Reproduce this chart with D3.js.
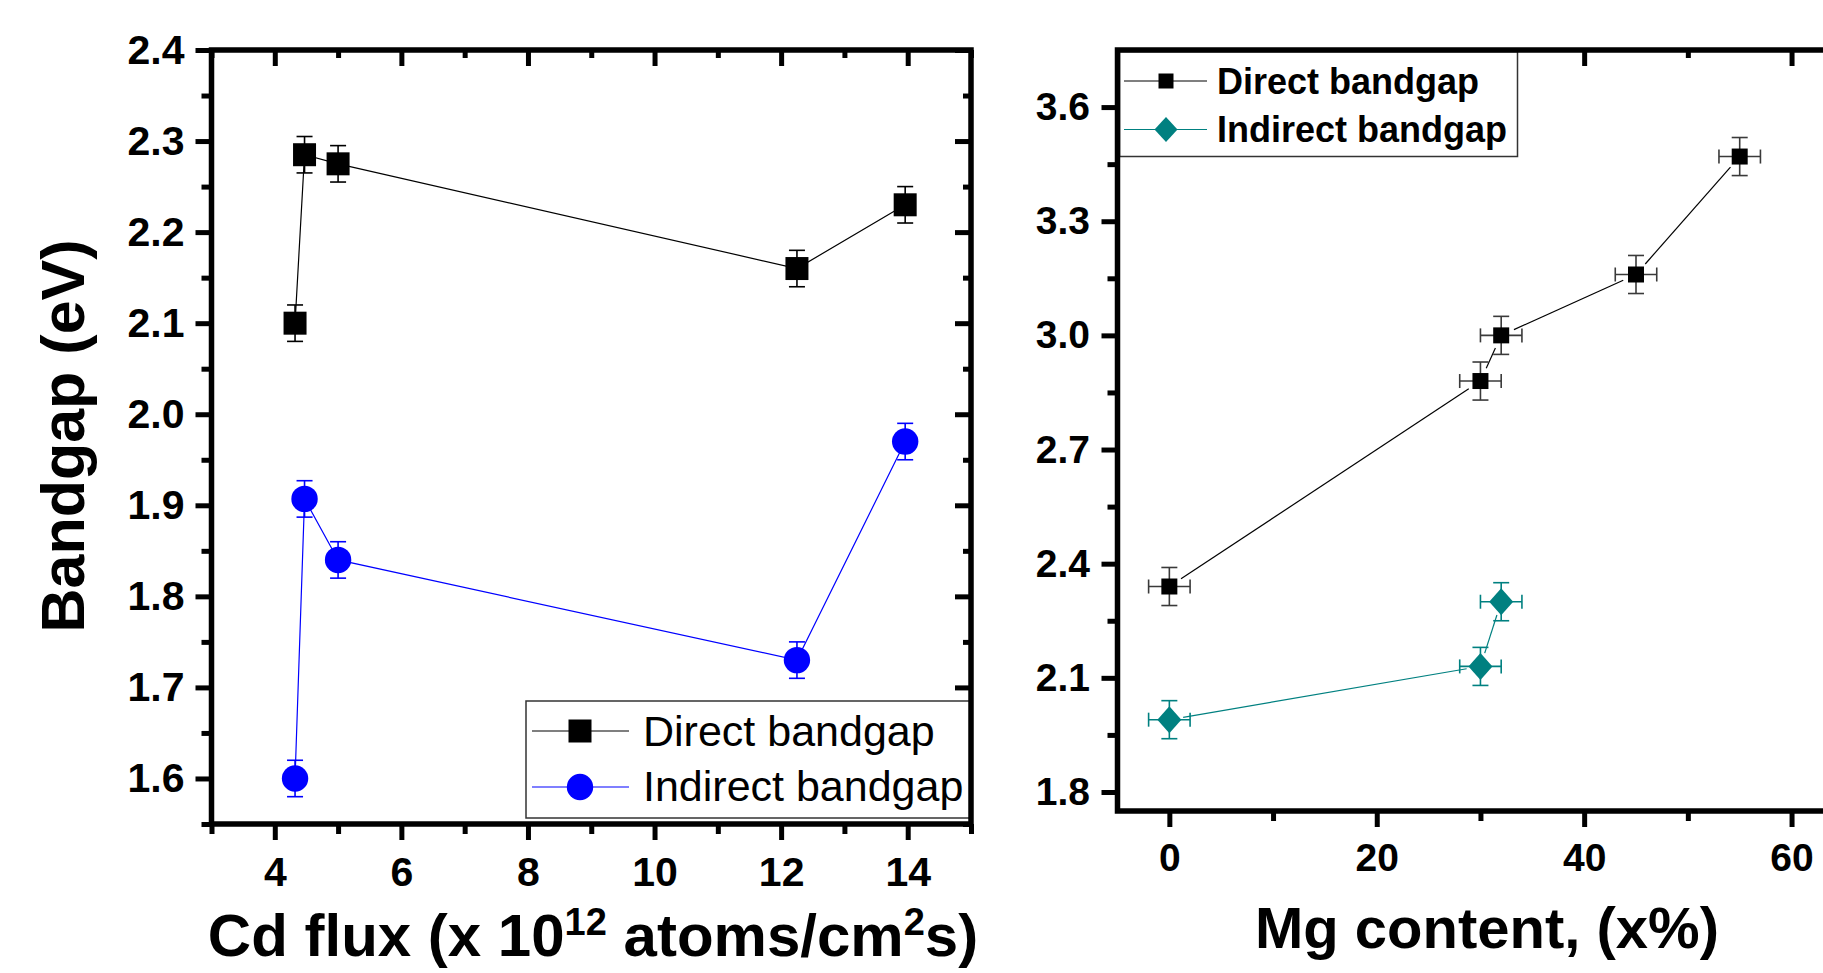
<!DOCTYPE html>
<html><head><meta charset="utf-8">
<script src="https://cdn.jsdelivr.net/npm/d3@7"></script>
<style>html,body{margin:0;padding:0;background:#fff;overflow:hidden}</style>
</head><body>
<svg id="chart" width="1823" height="973"></svg>
<script>
const FONT = "'Liberation Sans', Arial, Helvetica, sans-serif";

// ---- Left panel data: bandgap vs Cd flux ----
const cdFlux = [4.32, 4.47, 5.0, 12.25, 13.96];
const directCd = [2.10, 2.285, 2.275, 2.16, 2.23];
const directCdErr = [0.02, 0.02, 0.02, 0.02, 0.02];
const indirectCd = [1.60, 1.907, 1.84, 1.73, 1.97];
const indirectCdErr = [0.02, 0.02, 0.02, 0.02, 0.02];
const cdXTicks = [4, 6, 8, 10, 12, 14];
const cdXMinor = [3, 5, 7, 9, 11, 13, 15];
const cdYTicks = [1.6, 1.7, 1.8, 1.9, 2.0, 2.1, 2.2, 2.3, 2.4];
const cdYMinor = [1.55, 1.65, 1.75, 1.85, 1.95, 2.05, 2.15, 2.25, 2.35];

// ---- Right panel data: bandgap vs Mg content ----
const mgDirectX = [0, 30, 32, 45, 55];
const mgDirectY = [2.34, 2.88, 3.00, 3.16, 3.47];
const mgDirectXErr = [2, 2, 2, 2, 2];
const mgDirectYErr = [0.05, 0.05, 0.05, 0.05, 0.05];
const mgIndirectX = [0, 30, 32];
const mgIndirectY = [1.99, 2.13, 2.30];
const mgIndirectXErr = [2, 2, 2];
const mgIndirectYErr = [0.05, 0.05, 0.05];
const mgXTicks = [0, 20, 40, 60];
const mgXMinor = [10, 30, 50];
const mgYTicks = [1.8, 2.1, 2.4, 2.7, 3.0, 3.3, 3.6];
const mgYMinor = [1.95, 2.25, 2.55, 2.85, 3.15, 3.45];

const legendLabels = ["Direct bandgap", "Indirect bandgap"];

const svg = d3.select("#chart");

// scales
const xL = d3.scaleLinear().domain([3, 15]).range([211.5, 971]);
const yL = d3.scaleLinear().domain([1.55, 2.4]).range([824, 50]);
const xR = d3.scaleLinear().domain([-5, 65]).range([1117.5, 1843.4]);
const yR = d3.scaleLinear().domain([1.75, 3.75]).range([811, 50]);

const TICKW = 5;

function styleAxis(g, fs) {
  g.select(".domain").remove();
  g.selectAll(".tick line").attr("stroke", "#000").attr("stroke-width", TICKW);
  g.attr("font-family", FONT).attr("font-size", fs).attr("font-weight", "bold");
  g.selectAll(".tick text").attr("fill", "#000");
}

function drawAxes(xs, ys, xT, xM, yT, yM, fmtY, fs, xPad, yPad) {
  const [x0, x1] = xs.range();
  const [yb, yt] = ys.range();
  // bottom major
  svg.append("g").attr("transform", `translate(0,${yb})`)
    .call(d3.axisBottom(xs).tickValues(xT).tickSize(16).tickPadding(xPad).tickFormat(d3.format("d")))
    .call(g => styleAxis(g, fs));
  // bottom minor
  svg.append("g").attr("transform", `translate(0,${yb})`)
    .call(d3.axisBottom(xs).tickValues(xM).tickSize(10).tickFormat(""))
    .call(g => styleAxis(g, fs));
  // left major
  svg.append("g").attr("transform", `translate(${x0},0)`)
    .call(d3.axisLeft(ys).tickValues(yT).tickSize(16).tickPadding(yPad).tickFormat(fmtY))
    .call(g => styleAxis(g, fs));
  svg.append("g").attr("transform", `translate(${x0},0)`)
    .call(d3.axisLeft(ys).tickValues(yM).tickSize(10).tickFormat(""))
    .call(g => styleAxis(g, fs));
  // top (inward)
  svg.append("g").attr("transform", `translate(0,${yt})`)
    .call(d3.axisBottom(xs).tickValues(xT).tickSize(16).tickFormat(""))
    .call(g => styleAxis(g, fs));
  svg.append("g").attr("transform", `translate(0,${yt})`)
    .call(d3.axisBottom(xs).tickValues(xM).tickSize(8).tickFormat(""))
    .call(g => styleAxis(g, fs));
  // right (inward)
  svg.append("g").attr("transform", `translate(${x1},0)`)
    .call(d3.axisLeft(ys).tickValues(yT).tickSize(16).tickFormat(""))
    .call(g => styleAxis(g, fs));
  svg.append("g").attr("transform", `translate(${x1},0)`)
    .call(d3.axisLeft(ys).tickValues(yM).tickSize(8).tickFormat(""))
    .call(g => styleAxis(g, fs));
}

function drawFrame(xs, ys) {
  const [x0, x1] = xs.range();
  const [yb, yt] = ys.range();
  svg.append("rect").attr("x", x0).attr("y", yt).attr("width", x1 - x0).attr("height", yb - yt)
    .attr("fill", "none").attr("stroke", "#000").attr("stroke-width", 5.5);
}

function squarePath(s) { const h = s / 2; return `M${-h},${-h}H${h}V${h}H${-h}Z`; }
function diamondPath(w, h) { return `M0,${-h/2}L${w/2},0L0,${h/2}L${-w/2},0Z`; }

// ================= LEFT PANEL =================
drawAxes(xL, yL, cdXTicks, cdXMinor, cdYTicks, cdYMinor, d3.format(".1f"), 41, 17, 11);

const leftSeries = [
  {vals: directCd, err: directCdErr, color: "#000000", shape: "square"},
  {vals: indirectCd, err: indirectCdErr, color: "#0000ff", shape: "circle"}
];

leftSeries.forEach(s => {
  const pts = cdFlux.map((x, i) => ({x, y: s.vals[i], e: s.err[i]}));
  svg.append("path").datum(pts)
    .attr("d", d3.line().x(d => xL(d.x)).y(d => yL(d.y)))
    .attr("fill", "none").attr("stroke", s.color).attr("stroke-width", 1.2);
  const eb = svg.append("g").attr("stroke", s.color).attr("stroke-width", 1.6);
  pts.forEach(d => {
    const cx = xL(d.x), yTop = yL(d.y + d.e), yBot = yL(d.y - d.e);
    eb.append("line").attr("x1", cx).attr("x2", cx).attr("y1", yTop).attr("y2", yBot);
    eb.append("line").attr("x1", cx - 8).attr("x2", cx + 8).attr("y1", yTop).attr("y2", yTop);
    eb.append("line").attr("x1", cx - 8).attr("x2", cx + 8).attr("y1", yBot).attr("y2", yBot);
  });
  const mk = svg.append("g").attr("fill", s.color);
  pts.forEach(d => {
    if (s.shape === "square") {
      mk.append("path").attr("d", squarePath(23)).attr("transform", `translate(${xL(d.x)},${yL(d.y)})`);
    } else {
      mk.append("circle").attr("cx", xL(d.x)).attr("cy", yL(d.y)).attr("r", 13.2);
    }
  });
});

// left legend
{
  const g = svg.append("g");
  g.append("rect").attr("x", 526).attr("y", 701).attr("width", 445).attr("height", 117)
    .attr("fill", "#fff").attr("stroke", "#333").attr("stroke-width", 1.5);
  const rows = [
    {y: 731, base: 746, color: "#000", shape: "square"},
    {y: 787, base: 801, color: "#0000ff", shape: "circle"}
  ];
  rows.forEach((r, i) => {
    g.append("line").attr("x1", 532).attr("x2", 629).attr("y1", r.y).attr("y2", r.y)
      .attr("stroke", r.color).attr("stroke-width", 1.2);
    if (r.shape === "square") g.append("path").attr("d", squarePath(23)).attr("transform", `translate(580,${r.y})`).attr("fill", r.color);
    else g.append("circle").attr("cx", 580).attr("cy", r.y).attr("r", 13.2).attr("fill", r.color);
    g.append("text").attr("x", 643).attr("y", r.base).attr("font-family", FONT).attr("font-size", 43)
      .attr("fill", "#000").text(legendLabels[i]);
  });
}
drawFrame(xL, yL);

// left axis titles
svg.append("text").attr("transform", "translate(84,436) rotate(-90)")
  .attr("text-anchor", "middle").attr("font-family", FONT).attr("font-size", 61).attr("font-weight", "bold")
  .text("Bandgap (eV)");
{
  const t = svg.append("text").attr("x", 593).attr("y", 956).attr("text-anchor", "middle")
    .attr("font-family", FONT).attr("font-size", 60).attr("font-weight", "bold");
  t.append("tspan").text("Cd flux (x 10");
  t.append("tspan").attr("dy", -21).attr("font-size", 38).text("12");
  t.append("tspan").attr("dy", 21).text(" atoms/cm");
  t.append("tspan").attr("dy", -21).attr("font-size", 38).text("2");
  t.append("tspan").attr("dy", 21).text("s)");
}

// ================= RIGHT PANEL =================
drawAxes(xR, yR, mgXTicks, mgXMinor, mgYTicks, mgYMinor, d3.format(".1f"), 39, 16, 11.5);

function shorten(a, b, gap) {
  const dx = b[0] - a[0], dy = b[1] - a[1], L = Math.hypot(dx, dy);
  if (L <= 2 * gap) return null;
  const ux = dx / L, uy = dy / L;
  return [a[0] + ux * gap, a[1] + uy * gap, b[0] - ux * gap, b[1] - uy * gap];
}

const rightSeries = [
  {xs: mgDirectX, ys: mgDirectY, xe: mgDirectXErr, ye: mgDirectYErr, color: "#000000", errColor: "#3a3a3a", shape: "square"},
  {xs: mgIndirectX, ys: mgIndirectY, xe: mgIndirectXErr, ye: mgIndirectYErr, color: "#008080", errColor: "#008080", shape: "diamond"}
];

rightSeries.forEach(s => {
  const pts = s.xs.map((x, i) => ({x, y: s.ys[i], xe: s.xe[i], ye: s.ye[i]}));
  const lg = svg.append("g").attr("stroke", s.color).attr("stroke-width", 1.2);
  for (let i = 0; i < pts.length - 1; i++) {
    const seg = shorten([xR(pts[i].x), yR(pts[i].y)], [xR(pts[i + 1].x), yR(pts[i + 1].y)], 14);
    if (seg) lg.append("line").attr("x1", seg[0]).attr("y1", seg[1]).attr("x2", seg[2]).attr("y2", seg[3]);
  }
  const eb = svg.append("g").attr("stroke", s.errColor).attr("stroke-width", 1.6);
  pts.forEach(d => {
    const cx = xR(d.x), cy = yR(d.y);
    const yTop = yR(d.y + d.ye), yBot = yR(d.y - d.ye);
    const xLft = xR(d.x - d.xe), xRt = xR(d.x + d.xe);
    eb.append("line").attr("x1", cx).attr("x2", cx).attr("y1", yTop).attr("y2", yBot);
    eb.append("line").attr("x1", cx - 8).attr("x2", cx + 8).attr("y1", yTop).attr("y2", yTop);
    eb.append("line").attr("x1", cx - 8).attr("x2", cx + 8).attr("y1", yBot).attr("y2", yBot);
    eb.append("line").attr("x1", xLft).attr("x2", xRt).attr("y1", cy).attr("y2", cy);
    eb.append("line").attr("x1", xLft).attr("x2", xLft).attr("y1", cy - 7).attr("y2", cy + 7);
    eb.append("line").attr("x1", xRt).attr("x2", xRt).attr("y1", cy - 7).attr("y2", cy + 7);
  });
  const mk = svg.append("g").attr("fill", s.color);
  pts.forEach(d => {
    const p = s.shape === "square" ? squarePath(16) : diamondPath(24, 27);
    mk.append("path").attr("d", p).attr("transform", `translate(${xR(d.x)},${yR(d.y)})`);
  });
});

// right legend
{
  const g = svg.append("g");
  g.append("rect").attr("x", 1119.5).attr("y", 51.5).attr("width", 398).attr("height", 105)
    .attr("fill", "#fff").attr("stroke", "#333").attr("stroke-width", 1.5);
  const rows = [
    {y: 81, base: 93.5, color: "#000", shape: "square"},
    {y: 129.5, base: 142, color: "#008080", shape: "diamond"}
  ];
  rows.forEach((r, i) => {
    g.append("line").attr("x1", 1124).attr("x2", 1207).attr("y1", r.y).attr("y2", r.y)
      .attr("stroke", r.color).attr("stroke-width", 1.2);
    const p = r.shape === "square" ? squarePath(15) : diamondPath(23, 25);
    g.append("path").attr("d", p).attr("transform", `translate(1166,${r.y})`).attr("fill", r.color);
    g.append("text").attr("x", 1217).attr("y", r.base).attr("font-family", FONT).attr("font-size", 36)
      .attr("font-weight", "bold").attr("fill", "#000").text(legendLabels[i]);
  });
}
drawFrame(xR, yR);

svg.append("text").attr("x", 1487).attr("y", 948).attr("text-anchor", "middle")
  .attr("font-family", FONT).attr("font-size", 58).attr("font-weight", "bold")
  .text("Mg content, (x%)");
</script>
</body></html>
